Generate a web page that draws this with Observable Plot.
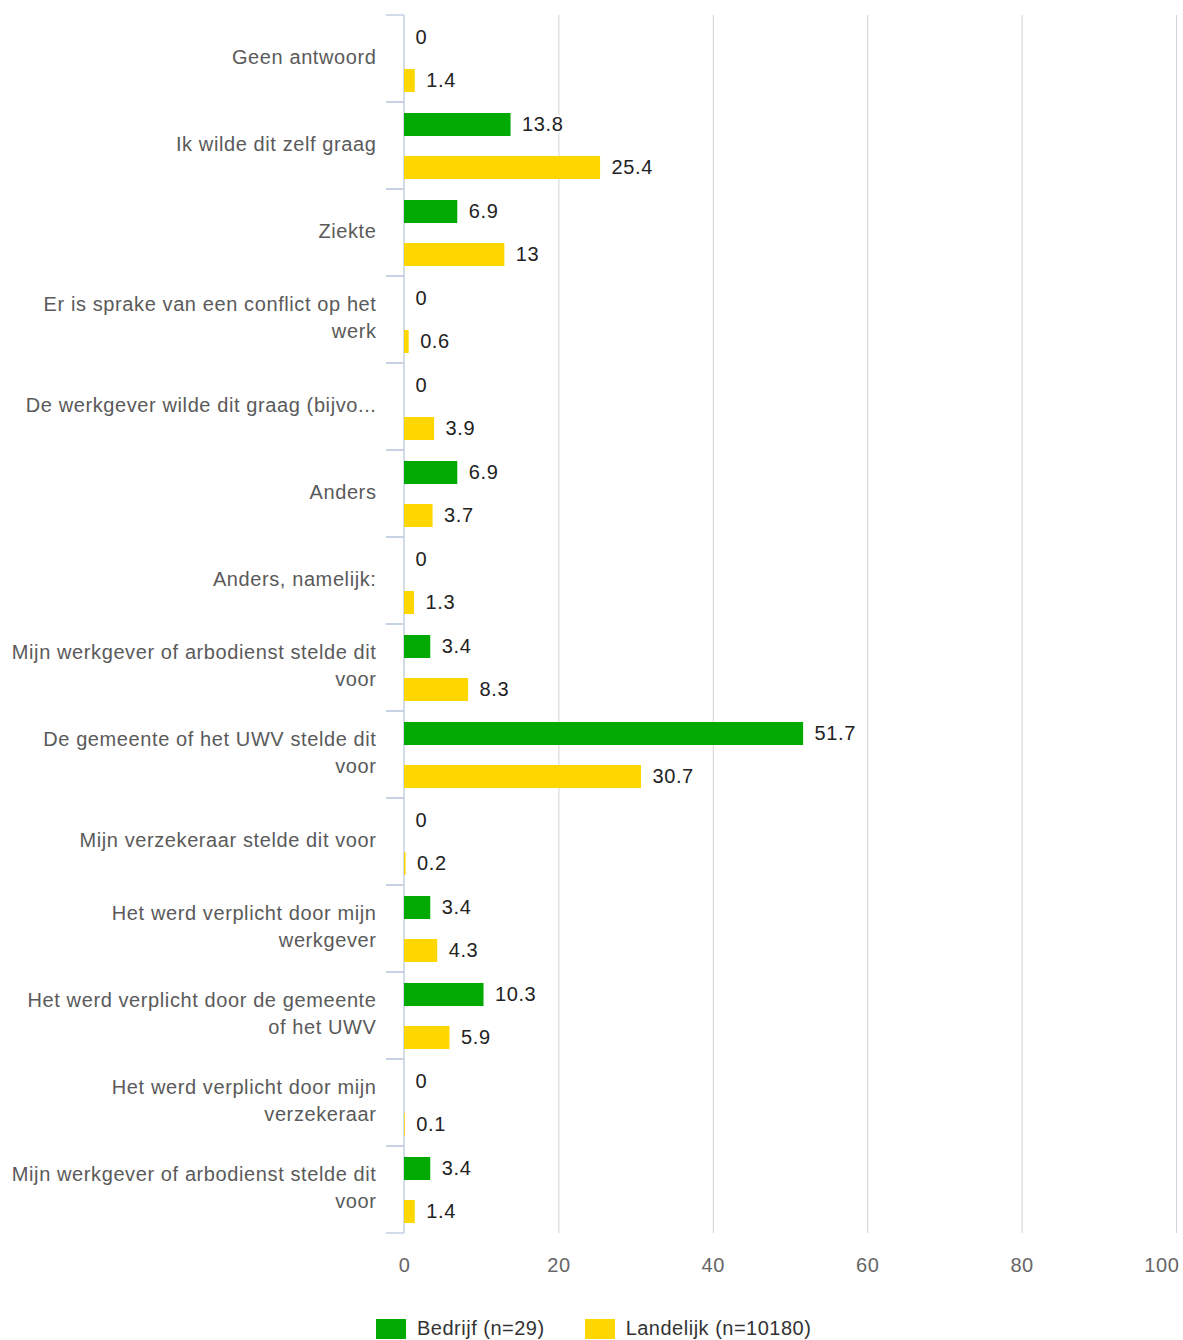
<!DOCTYPE html>
<html>
<head>
<meta charset="utf-8">
<script src="https://cdn.jsdelivr.net/npm/d3@7"></script>
<script src="https://cdn.jsdelivr.net/npm/@observablehq/plot@0.6"></script>
<style>
  body { margin: 0; background: #fff; font-family: "Liberation Sans", Arial, sans-serif; }
  #chart { width: 1183px; }
  .legend { display: flex; align-items: center; margin-left: 376px; margin-top: 22px; font-size: 20px; letter-spacing: 0.5px; color: #333; }
  .item { display: flex; align-items: center; margin-right: 40px; }
  .sw { width: 30px; height: 20px; margin-right: 11px; }
</style>
</head>
<body>
<div id="chart"></div>
<script>
// ---- data ----
const categories = [
  "Geen antwoord",
  "Ik wilde dit zelf graag",
  "Ziekte",
  "Er is sprake van een conflict op het werk",
  "De werkgever wilde dit graag (bijvo...",
  "Anders",
  "Anders, namelijk:",
  "Mijn werkgever of arbodienst stelde dit voor",
  "De gemeente of het UWV stelde dit voor",
  "Mijn verzekeraar stelde dit voor",
  "Het werd verplicht door mijn werkgever",
  "Het werd verplicht door de gemeente of het UWV",
  "Het werd verplicht door mijn verzekeraar",
  "Mijn werkgever of arbodienst stelde dit voor"
];
const categoryTickLabels = [
  "Geen antwoord",
  "Ik wilde dit zelf graag",
  "Ziekte",
  "Er is sprake van een conflict op het\nwerk",
  "De werkgever wilde dit graag (bijvo...",
  "Anders",
  "Anders, namelijk:",
  "Mijn werkgever of arbodienst stelde dit\nvoor",
  "De gemeente of het UWV stelde dit\nvoor",
  "Mijn verzekeraar stelde dit voor",
  "Het werd verplicht door mijn\nwerkgever",
  "Het werd verplicht door de gemeente\nof het UWV",
  "Het werd verplicht door mijn\nverzekeraar",
  "Mijn werkgever of arbodienst stelde dit\nvoor"
];
const bedrijf   = [0, 13.8, 6.9, 0, 0, 6.9, 0, 3.4, 51.7, 0, 3.4, 10.3, 0, 3.4];
const landelijk = [1.4, 25.4, 13, 0.6, 3.9, 3.7, 1.3, 8.3, 30.7, 0.2, 4.3, 5.9, 0.1, 1.4];
const seriesNames = ["Bedrijf (n=29)", "Landelijk (n=10180)"];
const seriesColors = ["#00aa00", "#ffd700"];
const xTicks = [0, 20, 40, 60, 80, 100];

// ---- table ----
const rows = [];
categories.forEach((c, i) => {
  rows.push({idx: i, category: c, series: seriesNames[0], value: bedrijf[i]});
  rows.push({idx: i, category: c, series: seriesNames[1], value: landelijk[i]});
});

// axis line with category boundary ticks (drawn in each facet from scales)
function bandAxis(index, scales) {
  const [y0, y1] = scales.y.range();
  const x0 = scales.x(0);
  const g = d3.create("svg:g").attr("stroke", "#c3d1e2").attr("stroke-width", 1.5);
  g.append("line").attr("x1", x0).attr("x2", x0).attr("y1", y0).attr("y2", y1);
  for (const yy of [y0, y1]) {
    g.append("line").attr("x1", x0 - 18).attr("x2", x0).attr("y1", yy).attr("y2", yy);
  }
  return g.node();
}

const lastTick = xTicks[xTicks.length - 1];

const plot = Plot.plot({
  width: 1183,
  height: 1295,
  marginTop: 11,
  marginBottom: 58,
  marginLeft: 404,
  marginRight: 7,
  style: {fontFamily: "'Liberation Sans', Arial, sans-serif", letterSpacing: "0.6px", background: "#fff"},
  x: {domain: [0, 100], label: null},
  fy: {domain: d3.range(categories.length), padding: 0, label: null},
  y: {domain: seriesNames, paddingInner: 0.474, paddingOuter: 0.237, axis: null},
  color: {domain: seriesNames, range: seriesColors},
  marks: [
    Plot.gridX(xTicks.filter(d => d > 0), {stroke: "#d4d4d4", strokeOpacity: 1}),
    bandAxis,
    Plot.barX(rows, {fy: "idx", y: "series", x: "value", fill: "series"}),
    Plot.text(rows, {
      fy: "idx", y: "series", x: "value", text: d => String(d.value),
      textAnchor: "start", dx: 11, fontSize: 20, fill: "#222",
      stroke: "white", strokeWidth: 4
    }),
    Plot.axisFy({
      anchor: "left", tickSize: 0, tickPadding: 28, fontSize: 20, fill: "#5a5a5a",
      lineHeight: 1.35, tickFormat: i => categoryTickLabels[i], label: null, dy: -4
    }),
    Plot.axisX({ticks: xTicks.filter(d => d !== lastTick), tickSize: 0, tickPadding: 24, fontSize: 20, fill: "#666", label: null}),
    Plot.axisX({ticks: [lastTick], tickSize: 0, tickPadding: 24, fontSize: 20, fill: "#666", label: null, textAnchor: "end", dx: 3})
  ]
});

document.getElementById("chart").appendChild(plot);

// legend
const legend = d3.select("#chart").append("div").attr("class", "legend");
seriesNames.forEach((s, i) => {
  const item = legend.append("div").attr("class", "item");
  item.append("div").attr("class", "sw").style("background", seriesColors[i]);
  item.append("span").text(s);
});
</script>
</body>
</html>
